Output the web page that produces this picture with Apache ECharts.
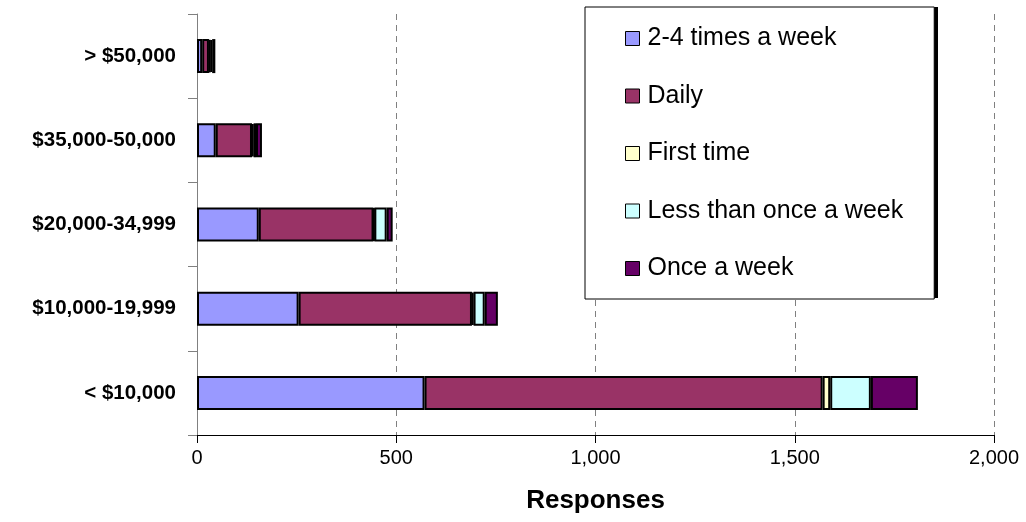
<!DOCTYPE html>
<html>
<head>
<meta charset="utf-8">
<script src="https://cdn.jsdelivr.net/npm/echarts@6/dist/echarts.min.js"></script>
<style>
  html, body { margin: 0; padding: 0; background: #fff; }
  #chart { width: 1026px; height: 522px; }
</style>
</head>
<body>
<div id="chart"></div>
<script>
// Income brackets, bottom to top
const incomeBrackets = ['< $10,000', '$10,000-19,999', '$20,000-34,999', '$35,000-50,000', '> $50,000'];

// Responses per visit frequency, one value per bracket
const twoToFourWeekly = [571, 255, 155, 47, 13];
const daily = [999, 435, 288, 91, 17];
const firstTime = [19, 4, 2, 4, 3];
const lessThanWeekly = [102, 28, 31, 6, 5];
const onceAWeek = [118, 33, 15, 15, 8];

const xTicks = { min: 0, max: 2000, interval: 500 };

const seriesDefs = [
  { name: '2-4 times a week', data: twoToFourWeekly, color: '#9999FF' },
  { name: 'Daily', data: daily, color: '#993366' },
  { name: 'First time', data: firstTime, color: '#FFFFCC' },
  { name: 'Less than once a week', data: lessThanWeekly, color: '#CCFFFF' },
  { name: 'Once a week', data: onceAWeek, color: '#660066' }
];

// Legend frame placement
const legendBox = { left: 585, top: 7, width: 349, height: 291, shadow: 4 };

const font = 'Liberation Sans, Arial, sans-serif';
const chart = echarts.init(document.getElementById('chart'), null, { renderer: 'canvas' });

chart.setOption({
  backgroundColor: '#ffffff',
  animation: false,
  grid: { left: 197, right: 32, top: 14, bottom: 87, containLabel: false },
  // solid drop shadow along the right edge of the legend frame
  graphic: [{
    type: 'rect',
    z: 1,
    silent: true,
    shape: {
      x: legendBox.left + legendBox.shadow,
      y: legendBox.top,
      width: legendBox.width,
      height: legendBox.height
    },
    style: { fill: '#000000' }
  }],
  legend: {
    orient: 'vertical',
    left: legendBox.left,
    top: legendBox.top,
    z: 5,
    padding: [19, 31, 18, 40],
    itemGap: 32.5,
    itemWidth: 14,
    itemHeight: 14,
    icon: 'rect',
    backgroundColor: '#ffffff',
    borderColor: '#000000',
    borderWidth: 1,
    itemStyle: { borderColor: '#000000', borderWidth: 1 },
    textStyle: { fontFamily: font, fontSize: 25, color: '#000', lineHeight: 24, padding: [0, 0, 0, 3] },
    data: seriesDefs.map(s => s.name)
  },
  xAxis: {
    type: 'value',
    min: xTicks.min,
    max: xTicks.max,
    interval: xTicks.interval,
    name: 'Responses',
    nameLocation: 'middle',
    nameGap: 53,
    nameTextStyle: { fontFamily: font, fontSize: 26, fontWeight: 'bold', color: '#000' },
    axisLine: { show: true, lineStyle: { color: '#000', width: 1 } },
    axisTick: { show: true, length: 8, lineStyle: { color: '#000' } },
    axisLabel: {
      fontFamily: font, fontSize: 20, color: '#000', margin: 13,
      formatter: v => v.toLocaleString('en-US')
    },
    splitLine: { show: true, lineStyle: { color: '#808080', width: 1, type: [6, 5] } }
  },
  yAxis: {
    type: 'category',
    data: incomeBrackets,
    axisLine: { show: true, lineStyle: { color: '#808080', width: 1 } },
    axisTick: { show: true, length: 9, lineStyle: { color: '#808080' } },
    axisLabel: { fontFamily: font, fontSize: 20.5, fontWeight: 'bold', color: '#000', margin: 21 },
    splitLine: { show: false }
  },
  series: seriesDefs.map(s => ({
    name: s.name,
    type: 'bar',
    stack: 'total',
    barWidth: 34,
    data: s.data,
    itemStyle: { color: s.color, borderColor: '#000000', borderWidth: 2 },
    emphasis: { disabled: true }
  }))
});
</script>
</body>
</html>
